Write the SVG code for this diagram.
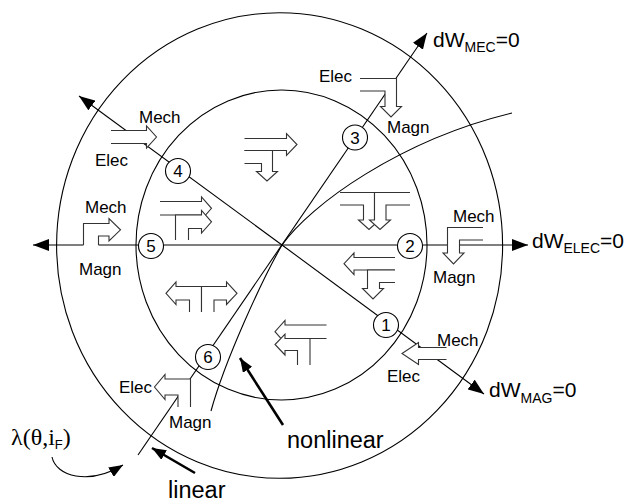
<svg xmlns="http://www.w3.org/2000/svg" width="627" height="502" viewBox="0 0 627 502">
<style>
.ln{fill:none;stroke:#000;stroke-width:1.1}
.thick{fill:none;stroke:#000;stroke-width:2.6}
.gl{fill:#fff;stroke:#333;stroke-width:1.1}
.num{fill:#fff;stroke:#000;stroke-width:1.1}
.nt{font-family:"Liberation Sans",Arial,sans-serif;font-size:17px;fill:#000;text-anchor:middle}
.lb{font-family:"Liberation Sans",Arial,sans-serif;font-size:17px;fill:#000}
.big{font-family:"Liberation Sans",Arial,sans-serif;font-size:23.5px;fill:#000}
.dw{font-family:"Liberation Sans",Arial,sans-serif;font-size:21px;fill:#000}
.sub{font-size:14px}
</style>
<defs>
<marker id="ah" markerUnits="userSpaceOnUse" markerWidth="16" markerHeight="12" refX="16" refY="6" orient="auto" viewBox="0 0 16 12"><path d="M0,0 L16,6 L0,12 Z" fill="#000"/></marker>
<marker id="ah2" markerUnits="userSpaceOnUse" markerWidth="14" markerHeight="11" refX="14" refY="5.5" orient="auto" viewBox="0 0 14 11"><path d="M0,0 L14,5.5 L0,11 Z" fill="#000"/></marker>
</defs>
<rect width="627" height="502" fill="#fff"/>

<g id="rings">
<ellipse cx="279.6" cy="245.5" rx="223" ry="232.8" class="ln"/>
<ellipse cx="281.5" cy="245" rx="145.5" ry="155" class="ln"/>
</g>

<g id="connectors">
<path class="ln" d="M83.5,245 L33,245" marker-end="url(#ah)"/>
<path class="ln" d="M98.5,245 L528,245" marker-end="url(#ah)"/>
<path class="ln" d="M282,245 L79,96" marker-end="url(#ah)"/>
<path class="ln" d="M282,245 L484,394" marker-end="url(#ah)"/>
<path class="ln" d="M138,455 L427,33" marker-end="url(#ah)"/>
<path class="ln" d="M211,411 C225,360 262,280 282,245 C310,205 400,140 512,113"/>
<path class="thick" d="M283,425 L240,358" marker-end="url(#ah2)"/>
<path class="thick" d="M195,473 L152,448" marker-end="url(#ah2)"/>
<path class="ln" d="M52,457 C56,476 88,486 123,465" marker-end="url(#ah2)"/>
</g>

<g id="flow-outer">
<path class="gl" d="M111,130.5 H146.5 V126 L156.5,137 L146.5,148 V143.5 H111"/>
<path class="gl" d="M360,78.5 H396.5 V106.5 H401.5 L391,117 L380.5,106.5 H385 V91 H360"/>
<path class="gl" d="M83.5,245 V223.5 H109 V218.5 L120.5,229.8 L109,241 V236 H98.5 V245"/>
<path class="gl" d="M483,227.5 H447.5 V253 H443 L453.5,264 L464,253 H459.5 V240 H483"/>
<path class="gl" d="M446.5,347.5 H418.5 V342.5 L402,353.5 L418.5,364.5 V359.5 H446.5"/>
<path class="gl" d="M190.5,407 V379 H165 V374.5 L154.5,387 L165,399.5 V395 H178 V407"/>
</g>

<g id="flow-inner">
<path class="gl" d="M244.5,138.5 H286.5 V133.5 L297,144.5 L286.5,155.5 V150.5 H244.5"/>
<path class="gl" d="M244.5,150.5 H272.5 V171.5 H277.5 L267,181 L256.5,171.5 H261.5 V163.5 H244.5"/>
<path class="gl" d="M160,201.5 H201.5 V197 L211.5,208.3 L201.5,219.5 V215 H160"/>
<path class="gl" d="M175.5,240 V215 H201.5 V210.5 L211.5,221.8 L201.5,233 V228.5 H188.5 V240"/>
<path class="gl" d="M340,192.5 H374.5 V220 H379.5 L369,229.5 L358.5,220 H363.5 V205 H340"/>
<path class="gl" d="M410,192.5 H374.5 V220 H369.5 L380,229.5 L390.5,220 H386 V205 H410"/>
<path class="gl" d="M395,257.5 H354 V253 L344,263.7 L354,274.5 V270 H395"/>
<path class="gl" d="M395,270 H367.5 V288.5 H362.5 L373,299 L383.5,288.5 H379.5 V282.5 H395"/>
<path class="gl" d="M201.5,312 V286.5 H176 V282 L166,293.3 L176,304.5 V300 H189.5 V312"/>
<path class="gl" d="M201.5,312 V286.5 H226.5 V282 L237,293.3 L226.5,304.5 V300 H214 V312"/>
<path class="gl" d="M326.5,325 H285 V320.5 L275,331.7 L285,343 V338.5 H326.5"/>
<path class="gl" d="M310,365 V338.5 H285 V334 L275,344.5 L285,355 V350.5 H297.5 V365"/>
</g>

<g id="node-1"><circle class="num" cx="386" cy="325" r="12.5"/><text class="nt" x="386" y="331">1</text></g>
<g id="node-2"><circle class="num" cx="410" cy="246" r="12.5"/><text class="nt" x="410" y="252">2</text></g>
<g id="node-3"><circle class="num" cx="355" cy="137.5" r="12.5"/><text class="nt" x="355" y="143.5">3</text></g>
<g id="node-4"><circle class="num" cx="178" cy="171" r="12.5"/><text class="nt" x="178" y="177">4</text></g>
<g id="node-5"><circle class="num" cx="151" cy="246" r="12.5"/><text class="nt" x="151" y="252">5</text></g>
<g id="node-6"><circle class="num" cx="208" cy="357" r="12.5"/><text class="nt" x="208" y="363">6</text></g>

<g id="labels">
<text class="lb" x="319" y="82">Elec</text>
<text class="lb" x="387" y="133">Magn</text>
<text class="lb" x="139" y="123">Mech</text>
<text class="lb" x="95" y="166">Elec</text>
<text class="lb" x="85" y="213">Mech</text>
<text class="lb" x="79" y="275">Magn</text>
<text class="lb" x="453" y="222">Mech</text>
<text class="lb" x="433" y="283">Magn</text>
<text class="lb" x="437" y="346">Mech</text>
<text class="lb" x="387" y="382">Elec</text>
<text class="lb" x="119" y="393">Elec</text>
<text class="lb" x="169" y="428">Magn</text>
<text class="dw" x="433" y="47">dW<tspan class="sub" dy="5">MEC</tspan><tspan dy="-5">=0</tspan></text>
<text class="dw" x="532" y="248">dW<tspan class="sub" dy="5">ELEC</tspan><tspan dy="-5">=0</tspan></text>
<text class="dw" x="489" y="397">dW<tspan class="sub" dy="6">MAG</tspan><tspan dy="-6">=0</tspan></text>
<text class="big" x="287" y="448">nonlinear</text>
<text class="big" x="168" y="498">linear</text>
<text x="11" y="445" font-family="'Liberation Serif',serif" font-size="24">λ(θ,i<tspan font-family="'Liberation Sans',sans-serif" font-size="13" dy="4">F</tspan><tspan dy="-4">)</tspan></text>
</g>
</svg>
